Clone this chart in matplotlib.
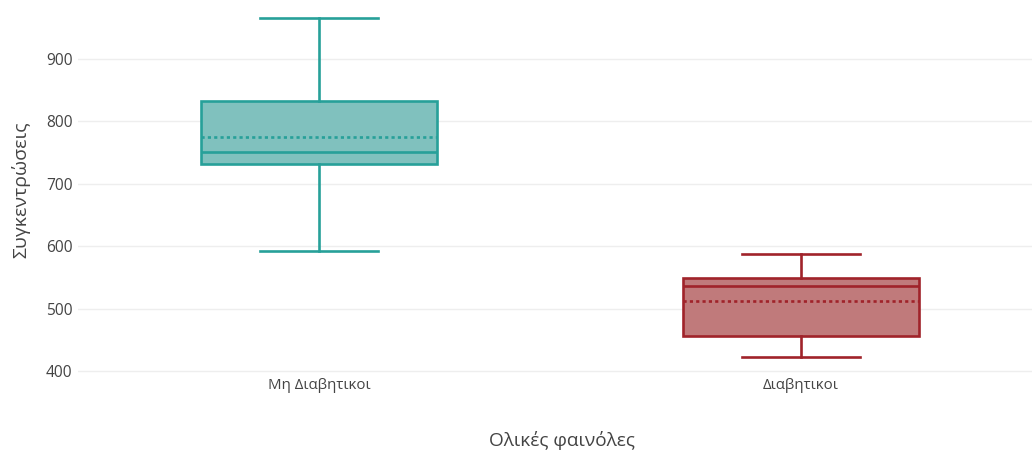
import matplotlib
matplotlib.use("Agg")
import matplotlib.pyplot as plt

# Box statistics per group
groups = ["Μη Διαβητικοί", "Διαβητικοί"]
tick_labels = ["Μη Διαβητικοι", "Διαβητικοι"]
whislo = [592, 422]
q1 = [732, 456]
med = [751, 536]
mean = [775, 512]
q3 = [833, 549]
whishi = [966, 587]
yticks = [400, 500, 600, 700, 800, 900]

edge_colors = ["#27a099", "#a0232a"]
fill_colors = ["#80c1be", "#c07a7b"]

plt.rcParams["font.family"] = ["Open Sans", "DejaVu Sans"]

fig = plt.figure(figsize=(10.32, 4.51), dpi=100)
W, H = 1032, 451
left, right, top, bottom = 78, 1042, 5, 385
ax = fig.add_axes([left / W, 1 - bottom / H, (right - left) / W, (bottom - top) / H])

stats = []
for i, g in enumerate(groups):
    stats.append(dict(label=tick_labels[i], whislo=whislo[i], q1=q1[i], med=med[i],
                      mean=mean[i], q3=q3[i], whishi=whishi[i], fliers=[]))

for i, s in enumerate(stats):
    c = edge_colors[i]
    ax.bxp([s], positions=[i], widths=0.49, patch_artist=True,
           showmeans=True, meanline=True, showfliers=False,
           boxprops=dict(facecolor=fill_colors[i], edgecolor=c, linewidth=1.9),
           medianprops=dict(color=c, linewidth=1.9),
           meanprops=dict(color=c, linewidth=1.9, linestyle=(0, (1.2, 1.2))),
           whiskerprops=dict(color=c, linewidth=1.9),
           capprops=dict(color=c, linewidth=1.9),
           capwidths=0.245)

ax.set_xlim(-0.5, 1.5)
ax.set_ylim(377.6, 986.5)
ax.set_yticks(yticks)
ax.set_xticks([0, 1])
ax.set_xticklabels(tick_labels)
ax.grid(axis="y", color="#eeeeee", linewidth=1)
ax.set_axisbelow(True)
for sp in ax.spines.values():
    sp.set_visible(False)
ax.tick_params(axis="y", length=0, labelsize=11.2, colors="#444444", pad=4)
ax.tick_params(axis="x", length=0, labelsize=10.8, colors="#444444", pad=-5)

fig.text(21 / W, 1 - 190 / H, "Συγκεντρώσεις", rotation=90, ha="center", va="center",
         fontsize=14, color="#444444")
fig.text(562 / W, 1 - 440 / H, "Ολικές φαινόλες", ha="center", va="center",
         fontsize=13.7, color="#444444")

fig.savefig("out.png", dpi=100)
